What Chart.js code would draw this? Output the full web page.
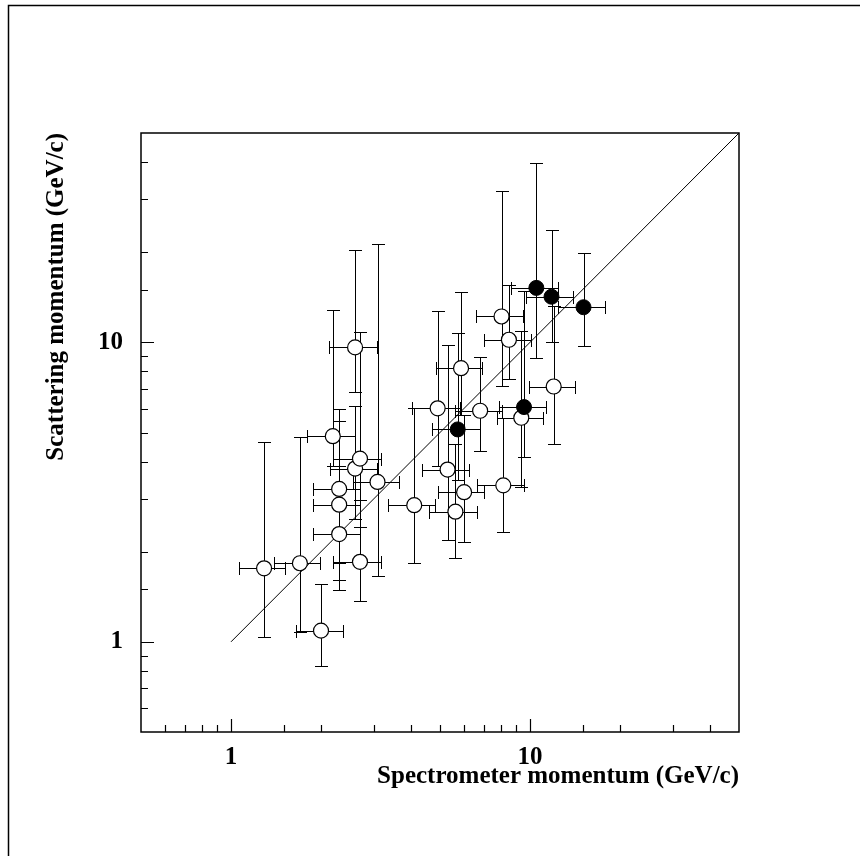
<!DOCTYPE html>
<html>
<head>
<meta charset="utf-8">
<script src="https://cdn.jsdelivr.net/npm/chart.js@4.4.0/dist/chart.umd.min.js"></script>
<style>
  html, body { margin: 0; padding: 0; background: #fff; }
</style>
</head>
<body>
<canvas id="myChart" width="860" height="856"></canvas>
<script>
// open circles
const openX   = [1.29, 1.70, 2.00, 2.19, 2.30, 2.30, 2.30, 2.60, 2.60, 2.70, 2.70, 3.09, 4.10, 4.91, 5.30, 5.63, 5.88, 6.02, 6.81, 8.03, 8.14, 8.50, 9.35, 12.0];
const openXLo = [1.06, 1.39, 1.65, 1.79, 1.88, 1.88, 1.88, 2.13, 2.14, 2.19, 2.19, 2.55, 3.36, 4.03, 4.35, 4.61, 4.86, 4.91, 5.63, 6.62, 6.66, 7.01, 7.73, 9.92];
const openXHi = [1.52, 1.99, 2.36, 2.60, 2.70, 2.70, 2.70, 3.07, 3.07, 3.17, 3.17, 3.66, 4.82, 5.85, 6.24, 6.66, 6.92, 7.04, 8.08, 9.47, 9.55, 10.05, 11.09, 14.1];
const openY   = [1.76, 1.83, 1.09, 4.86, 3.24, 2.87, 2.29, 9.62, 3.79, 4.09, 1.85, 3.42, 2.86, 6.02, 3.76, 2.72, 8.20, 3.16, 5.91, 12.2, 3.33, 10.2, 5.60, 7.12];
const openYLo = [1.04, 1.08, 0.83, 3.85, 1.84, 1.61, 1.49, 6.85, 2.57, 2.42, 1.37, 1.66, 1.84, 3.85, 2.19, 1.91, 5.70, 2.15, 4.35, 7.15, 2.33, 7.53, 3.30, 4.56];
const openYHi = [4.65, 4.84, 1.56, 12.8, 5.97, 5.46, 3.85, 20.3, 6.13, 10.85, 2.98, 21.3, 6.02, 12.7, 9.81, 4.59, 14.7, 5.70, 8.91, 32.1, 5.60, 15.5, 10.9, 13.2];

// filled circles
const fullX   = [10.5, 11.8, 15.1, 9.55, 5.73];
const fullXLo = [8.61, 9.67, 12.4, 7.87, 4.70];
const fullXHi = [12.4, 13.9, 17.8, 11.3, 6.78];
const fullY   = [15.2, 14.2, 13.1, 6.08, 5.12];
const fullYLo = [8.86, 10.0, 9.70, 4.13, 3.48];
const fullYHi = [39.7, 23.8, 19.9, 14.8, 10.75];

// y = x reference line
const diagX = [1, 50];
const diagY = [1, 50];

const tickValues = [1, 10];
const tickLabels = ['1', '10'];
const xTitle = 'Spectrometer momentum (GeV/c)';
const yTitle = 'Scattering momentum (GeV/c)';

function toPoints(xs, ys) {
  return xs.map((v, i) => ({x: v, y: ys[i]}));
}

function labelFor(v) {
  for (let i = 0; i < tickValues.length; i++) {
    if (Math.abs(v - tickValues[i]) < 1e-9) return tickLabels[i];
  }
  return '';
}

const serif = 'Liberation Serif, Times New Roman, serif';

// error bars with caps
const errorBars = {
  id: 'errorBars',
  beforeDatasetsDraw(chart) {
    const {ctx} = chart;
    const xs = chart.scales.x, ys = chart.scales.y;
    const cap = 6.5;
    ctx.save();
    ctx.strokeStyle = '#000';
    ctx.lineWidth = 1;
    chart.data.datasets.forEach(ds => {
      if (!ds.err) return;
      ds.data.forEach((p, i) => {
        const px = Math.round(xs.getPixelForValue(p.x)) + 0.5;
        const py = Math.round(ys.getPixelForValue(p.y)) + 0.5;
        const x1 = Math.round(xs.getPixelForValue(ds.err.xLo[i])) + 0.5;
        const x2 = Math.round(xs.getPixelForValue(ds.err.xHi[i])) + 0.5;
        const y1 = Math.round(ys.getPixelForValue(ds.err.yLo[i])) + 0.5;
        const y2 = Math.round(ys.getPixelForValue(ds.err.yHi[i])) + 0.5;
        ctx.beginPath();
        ctx.moveTo(x1, py); ctx.lineTo(x2, py);
        ctx.moveTo(x1, py - cap); ctx.lineTo(x1, py + cap);
        ctx.moveTo(x2, py - cap); ctx.lineTo(x2, py + cap);
        ctx.moveTo(px, y1); ctx.lineTo(px, y2);
        ctx.moveTo(px - cap, y1); ctx.lineTo(px + cap, y1);
        ctx.moveTo(px - cap, y2); ctx.lineTo(px + cap, y2);
        ctx.stroke();
      });
    });
    ctx.restore();
  }
};

// plot box, inward ticks, outer frame
const frame = {
  id: 'frame',
  afterDraw(chart) {
    const {ctx, chartArea: a} = chart;
    const xs = chart.scales.x, ys = chart.scales.y;
    ctx.save();
    ctx.strokeStyle = '#000';
    ctx.lineWidth = 1.5;
    ctx.strokeRect(a.left, a.top, a.right - a.left, a.bottom - a.top);
    ctx.lineWidth = 1.2;
    ctx.beginPath();
    xs.ticks.forEach(t => {
      const v = t.value;
      if (v <= xs.min || v >= xs.max) return;
      const len = tickValues.some(m => Math.abs(m - v) < 1e-9) ? 13 : 7;
      const px = Math.round(xs.getPixelForValue(v)) + 0.5;
      ctx.moveTo(px, a.bottom); ctx.lineTo(px, a.bottom - len);
    });
    ys.ticks.forEach(t => {
      const v = t.value;
      if (v <= ys.min || v >= ys.max) return;
      const len = tickValues.some(m => Math.abs(m - v) < 1e-9) ? 13 : 7;
      const py = Math.round(ys.getPixelForValue(v)) + 0.5;
      ctx.moveTo(a.left, py); ctx.lineTo(a.left + len, py);
    });
    ctx.stroke();
    ctx.lineWidth = 1.5;
    ctx.strokeRect(8.5, 5.5, 900, 900);
    ctx.restore();
  }
};

const ctx = document.getElementById('myChart');

const myChart = new Chart(ctx, {
  type: 'scatter',
  data: {
    datasets: [
      {
        data: toPoints(fullX, fullY),
        err: {xLo: fullXLo, xHi: fullXHi, yLo: fullYLo, yHi: fullYHi},
        pointRadius: 7.5,
        pointBackgroundColor: '#000',
        pointBorderColor: '#000',
        pointBorderWidth: 1
      },
      {
        data: toPoints(openX, openY),
        err: {xLo: openXLo, xHi: openXHi, yLo: openYLo, yHi: openYHi},
        pointRadius: 7.5,
        pointBackgroundColor: '#fff',
        pointBorderColor: '#000',
        pointBorderWidth: 1.2
      },
      {
        type: 'line',
        data: toPoints(diagX, diagY),
        borderColor: '#000',
        borderWidth: 1,
        pointRadius: 0,
        fill: false
      }
    ]
  },
  options: {
    responsive: false,
    animation: false,
    events: [],
    layout: { padding: { left: 0, top: 133, right: 121, bottom: 0 } },
    plugins: {
      legend: { display: false },
      tooltip: { enabled: false }
    },
    scales: {
      x: {
        type: 'logarithmic',
        position: 'bottom',
        min: 0.5,
        max: 50,
        grid: { display: false, drawTicks: false },
        border: { display: false },
        ticks: {
          autoSkip: false,
          maxRotation: 0,
          padding: 11,
          color: '#000',
          font: { family: serif, size: 25, weight: 'bold' },
          callback: v => labelFor(v)
        },
        title: {
          display: true,
          text: xTitle,
          align: 'end',
          color: '#000',
          padding: { top: 0, bottom: 64 },
          font: { family: serif, size: 25, weight: 'bold' }
        },
        afterFit: s => { s.height = 124; }
      },
      y: {
        type: 'logarithmic',
        position: 'left',
        min: 0.5,
        max: 50,
        grid: { display: false, drawTicks: false },
        border: { display: false },
        ticks: {
          autoSkip: false,
          padding: 18,
          color: '#000',
          font: { family: serif, size: 25, weight: 'bold' },
          callback: v => labelFor(v)
        },
        title: {
          display: true,
          text: yTitle,
          align: 'end',
          color: '#000',
          padding: { top: 42, bottom: 0 },
          font: { family: serif, size: 25, weight: 'bold' }
        },
        afterFit: s => { s.width = 141; }
      }
    }
  },
  plugins: [errorBars, frame]
});
</script>
</body>
</html>
